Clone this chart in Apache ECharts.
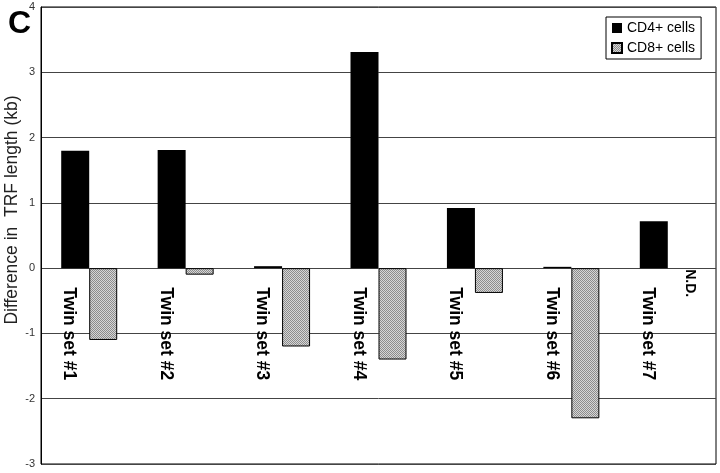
<!DOCTYPE html>
<html>
<head>
<meta charset="utf-8">
<script src="https://cdn.jsdelivr.net/npm/echarts@6/dist/echarts.min.js"></script>
<style>
  html, body { margin: 0; padding: 0; background: #fff; }
  #chart-container { width: 720px; height: 473px; }
</style>
</head>
<body>
<div id="chart-container"></div>
<script>
// datos
const categorias = ['Twin set #1', 'Twin set #2', 'Twin set #3', 'Twin set #4', 'Twin set #5', 'Twin set #6', 'Twin set #7'];
const cd4 = [1.80, 1.81, 0.03, 3.31, 0.92, 0.02, 0.72];
const cd8 = [-1.10, -0.10, -1.20, -1.40, -0.38, -2.30, null];
const notas = ['', '', '', '', '', '', 'N.D.'];
const ticksY = [-3, -2, -1, 0, 1, 2, 3, 4];

// trama gris punteada para CD8
const patron = document.createElement('canvas');
patron.width = 2;
patron.height = 2;
const ctx = patron.getContext('2d');
ctx.fillStyle = '#d6d6d6';
ctx.fillRect(0, 0, 2, 2);
ctx.fillStyle = '#8c8c8c';
ctx.fillRect(0, 0, 1, 1);
ctx.fillRect(1, 1, 1, 1);

const FUENTE = '"Liberation Sans", Arial, sans-serif';

let myChart = echarts.init(document.getElementById('chart-container'), null, { renderer: 'canvas' });

const opciones = {
  animation: false,
  backgroundColor: '#fff',
  title: {
    text: 'C',
    left: 3,
    top: 3,
    textStyle: { fontFamily: FUENTE, fontWeight: 'bold', fontSize: 32, color: '#000' }
  },
  graphic: [{
    type: 'text',
    x: 12,
    y: 210,
    rotation: Math.PI / 2,
    style: {
      text: 'Difference in  TRF length (kb)',
      font: '17.5px ' + FUENTE,
      fill: '#222',
      align: 'center',
      verticalAlign: 'middle'
    }
  }],
  legend: {
    data: ['CD4+ cells', 'CD8+ cells'],
    orient: 'vertical',
    left: 606,
    top: 17,
    padding: [4, 6, 4, 5],
    itemGap: 6,
    itemWidth: 10,
    itemHeight: 10,
    icon: 'rect',
    borderColor: '#000',
    borderWidth: 1,
    backgroundColor: '#fff',
    textStyle: { fontFamily: FUENTE, fontSize: 14, color: '#000' }
  },
  grid: {
    left: 41, right: 4, top: 7, bottom: 9,
    containLabel: false,
    outerBoundsMode: 'none',
    show: true,
    borderColor: '#000',
    borderWidth: 1,
    backgroundColor: 'transparent'
  },
  xAxis: {
    type: 'category',
    data: categorias,
    axisLine: { show: false },
    axisTick: { show: false },
    axisLabel: { show: false },
    splitLine: { show: false }
  },
  yAxis: {
    type: 'value',
    min: -3,
    max: 4,
    interval: 1,
    axisLine: { show: true, lineStyle: { color: '#000', width: 1 } },
    axisTick: { show: false },
    axisLabel: {
      margin: 6,
      fontFamily: FUENTE,
      fontSize: 11,
      color: '#333',
      formatter: v => ticksY.includes(v) ? String(v) : ''
    },
    splitLine: { show: true, lineStyle: { color: '#444', width: 1 } }
  },
  series: [
    {
      name: 'CD4+ cells',
      type: 'bar',
      data: cd4,
      barWidth: 28,
      barGap: '0%',
      itemStyle: { color: '#000' }
    },
    {
      name: 'CD8+ cells',
      type: 'bar',
      data: cd8,
      barWidth: 28,
      itemStyle: {
        color: { image: patron, repeat: 'repeat' },
        borderColor: '#000',
        borderWidth: 1
      }
    },
    {
      // etiquetas verticales bajo la linea de cero
      type: 'custom',
      data: categorias.map((c, i) => [i, 0]),
      z: 10,
      silent: true,
      renderItem: (params, api) => {
        const i = api.value(0);
        const p = api.coord([i, 0]);
        const hijos = [{
          type: 'text',
          x: p[0] - 20,
          y: p[1] + 19,
          rotation: -Math.PI / 2,
          style: {
            text: categorias[i],
            font: 'bold 17.5px ' + FUENTE,
            fill: '#000',
            align: 'left',
            verticalAlign: 'middle'
          }
        }];
        if (notas[i]) {
          hijos.push({
            type: 'text',
            x: p[0] + 22,
            y: p[1] + 1,
            rotation: -Math.PI / 2,
            style: {
              text: notas[i],
              font: 'bold 14px ' + FUENTE,
              fill: '#000',
              align: 'left',
              verticalAlign: 'middle'
            }
          });
        }
        return { type: 'group', children: hijos };
      }
    }
  ]
};

myChart.setOption(opciones);
window.addEventListener('resize', myChart.resize);
</script>
</body>
</html>
